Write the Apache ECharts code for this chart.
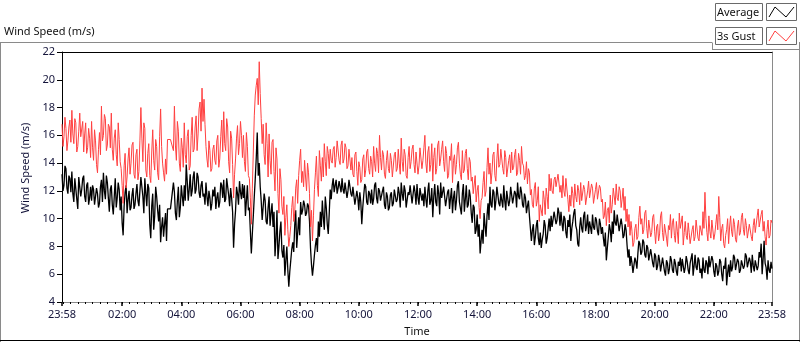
<!DOCTYPE html>
<html><head><meta charset="utf-8">
<script src="https://cdn.jsdelivr.net/npm/echarts@6/dist/echarts.min.js"></script>
<style>html,body{margin:0;padding:0;background:#fff}#c{width:800px;height:342px}</style>
</head><body><div id="c"></div>
<script>
const chartTitle = 'Wind Speed (m/s)';
const yAxisName = 'Wind Speed (m/s)';
const xAxisName = 'Time';
const seriesNames = ['Average', '3s Gust'];
const startMinute = -2, stepMinutes = 2, endMinute = 1438;
const yMin = 4, yMax = 22, yStep = 2;
const majorTimeTicks = [-2, 120, 240, 360, 480, 600, 720, 840, 960, 1080, 1200, 1320, 1438];

// Average wind speed (m/s), 2-minute samples from 23:58
const avgQ1 = [
13.2,12.0,12.4,13.8,13.6,12.2,11.8,13.1,12.9,11.9, 13.4,11.8,11.2,12.9,12.8,11.4,10.7,13.0,12.3,11.6,
12.1,12.9,13.1,11.6,11.2,12.4,12.6,11.0,11.5,12.3, 11.3,12.4,12.1,11.0,10.9,12.2,11.8,10.8,11.1,12.3,
12.8,11.2,13.3,12.0,11.4,13.1,12.6,11.5,10.5,12.1, 12.4,11.0,10.3,11.6,12.9,10.8,11.5,12.6,12.1,10.6,
11.6,9.7,8.8,10.9,11.9,12.4,10.4,11.4,12.0,10.6, 10.8,11.7,12.2,10.7,11.0,11.8,12.5,11.3,10.9,12.0,
13.0,12.3,11.6,10.4,12.9,11.8,10.9,12.5,12.2,9.6, 8.6,10.9,11.8,9.2,10.2,12.3,11.6,10.6,9.8,11.0,
8.3,9.4,10.1,8.7,9.6,10.4,8.4,10.7,10.7,10.7,10.7,10.7,10.7,12.6,
11.9,10.4,9.9,11.3,12.3,10.1,10.8,12.4,11.6,10.9, 12.4,11.3,13.9,12.7,11.3,12.1,13.2,11.6,12.0,13.0,
13.4,11.8,12.1,13.3,13.0,11.9,11.5,12.4,12.7,11.6, 11.8,11.0,12.6,11.6,10.9,12.0,11.5,10.6,11.1,12.1,
11.6,12.3,10.7,11.5,11.9,10.8,11.2,12.6,12.4,11.5, 12.8,11.2,11.4,12.9,13.0,11.7,10.9,12.2,11.5,10.5,
7.9,9.6,10.6,12.3,11.8,11.0,12.7,11.9,11.4,12.5];
const avgQ2 = [
11.5,12.4,10.2,11.3,12.4,10.6,10.8,9.1,7.5,8.9, 10.2,11.6,12.9,14.4,16.2,13.1,14.0,12.3,11.3,9.9,
10.0,11.8,11.3,9.8,9.6,10.8,11.6,9.5,10.4,11.1, 9.4,10.5,7.3,8.6,10.6,7.1,8.0,9.1,9.8,7.7,
7.2,8.1,5.9,7.0,8.0,6.3,5.1,6.2,7.0,7.8, 8.3,7.6,9.5,10.6,7.9,9.0,10.1,8.8,11.2,10.3,
10.6,11.3,11.0,10.2,10.4,11.1,10.9,9.8,7.9,6.7, 5.9,6.6,7.4,8.1,8.6,7.6,9.8,8.7,10.5,9.4,
11.3,10.1,9.2,11.6,10.8,9.6,8.9,10.4,12.1,11.4, 12.4,12.9,11.9,12.4,12.8,11.8,12.2,12.7,12.6,11.9,
12.9,12.1,11.8,12.6,12.5,11.5,12.0,12.8,12.7,11.8, 11.6,12.3,12.2,11.0,10.9,12.0,11.5,10.6,11.9,11.2,
9.6,10.8,11.7,12.5,12.3,11.2,11.0,12.0,11.8,11.1, 12.1,11.0,11.4,12.4,12.6,11.5,11.1,12.2,12.0,11.3,
11.2,12.0,12.3,11.0,10.7,11.9,11.6,10.6,10.8,11.7, 11.9,10.9,11.1,12.1,12.2,11.2,11.4,12.3,11.8,10.8,
12.6,11.8,11.3,12.4,12.0,10.8,10.9,11.9,11.7,12.4, 12.3,11.1,11.2,12.4,11.9,11.0,12.5,11.5,11.0,12.2,12.1,11.3];
const avgQ3 = [
11.8,10.9,12.3,11.4,10.8,12.0,12.6,11.0,11.3,12.2, 10.1,11.6,12.5,11.2,10.9,12.4,11.8,10.3,12.6,11.5,
11.4,12.3,12.4,10.9,11.0,11.9,12.1,10.7,11.5,12.2, 10.4,11.5,12.0,10.6,11.3,12.4,12.7,11.2,11.1,10.3,
11.8,12.5,10.5,11.4,12.4,10.8,11.0,12.1,11.6,10.4, 9.7,11.0,10.8,8.9,9.2,10.3,8.7,9.6,7.5,8.4,
9.2,8.2,10.4,9.5,8.7,10.2,11.1,9.9,12.3,11.0, 10.8,12.1,11.9,10.6,11.3,12.3,12.2,11.1,10.9,11.8,
11.7,10.8,12.4,11.3,10.6,12.0,11.9,10.9,11.3,12.3, 12.2,11.1,11.0,12.0,11.8,10.8,12.6,11.6,11.4,12.3,
11.9,11.0,10.8,11.8,11.5,10.4,10.9,11.3,10.2,9.3, 8.4,9.2,9.6,8.1,8.7,9.5,9.9,8.6,8.1,9.0,
7.9,8.5,8.9,9.9,9.5,8.2,8.6,9.3,10.0,9.1, 10.2,9.4,9.3,10.5,10.6,9.6,9.9,10.8,10.4,9.5,
10.5,9.7,9.1,10.2,10.0,9.0,8.6,9.9,9.4,10.3, 8.4,9.3,9.8,10.4,10.7,9.5,9.2,8.2,8.0,9.4,
10.1,9.3,9.0,10.2,10.5,9.1,9.5,10.3,8.9,9.8, 9.7,8.9,10.3,9.4,9.2,10.1,9.9,9.1,8.8,10.0,9.6,8.9];
const avgQ4 = [
9.4,8.6,8.0,9.0,7.0,7.9,8.7,9.6,9.2,8.3, 9.8,8.9,10.6,9.7,9.5,10.3,10.2,9.1,9.0,10.0,
9.5,8.6,8.8,9.6,9.2,8.1,7.2,7.8,6.6,7.3, 6.8,6.1,6.2,7.2,6.9,6.4,7.5,8.4,8.2,7.4,
7.6,8.5,8.3,7.4,7.2,8.1,7.9,7.0,6.9,7.8, 7.7,6.8,6.5,7.5,7.3,6.3,6.6,7.4,7.0,6.2,
6.3,7.2,7.1,6.2,5.9,7.0,6.8,6.0,6.4,7.3, 7.0,6.3,6.1,7.1,6.8,6.2,5.9,6.9,6.6,7.2,
6.2,7.1,7.0,6.1,6.5,7.3,6.9,6.3,6.0,6.8, 6.7,7.5,5.9,6.6,7.4,6.5,6.3,7.2,7.0,6.1,
6.4,5.7,7.2,6.3,6.1,7.0,6.8,6.0,7.3,6.5, 6.5,7.3,7.0,6.2,5.8,6.8,6.6,5.9,6.2,7.1,
6.9,6.0,5.5,6.6,6.4,7.2,5.2,6.1,6.7,5.8, 7.0,6.2,6.5,7.4,7.2,6.3,6.4,7.1,6.9,6.1,
6.3,7.0,7.1,6.4,6.6,7.5,7.3,6.5,6.5,7.2, 6.9,6.1,7.4,6.6,6.2,7.0,7.1,6.3,6.6,7.6,
7.2,8.2,6.0,7.1,8.4,6.8,6.5,5.6,7.0,6.3, 6.1,6.9,6.4];

// 3-second gust (m/s), 2-minute samples from 23:58
const gustQ1 = [
16.8,15.2,15.9,17.3,16.5,14.9,15.6,16.6,17.1,15.5, 17.8,16.1,15.4,17.2,16.9,14.8,15.2,16.3,17.6,15.9,
16.0,17.0,14.8,16.1,16.9,14.7,15.1,16.5,15.8,14.4, 17.0,15.1,14.2,16.4,15.6,13.9,13.3,15.0,16.2,14.6,
18.1,15.6,16.0,17.5,17.2,14.9,15.3,16.8,16.6,15.1, 17.6,15.0,14.2,15.8,16.4,14.6,13.8,16.9,15.7,14.1,
13.6,12.4,11.1,13.8,14.7,12.2,13.0,14.3,15.1,13.2, 14.0,15.3,15.5,13.2,12.9,14.6,15.0,12.8,13.4,15.6,
18.0,15.8,14.1,16.9,16.5,13.5,13.0,14.7,15.4,13.1, 12.6,14.8,16.4,14.2,13.5,15.7,15.2,13.3,12.8,15.9,
17.9,15.2,14.0,13.3,12.7,14.3,13.2,15.7,15.7,15.7,15.7,15.7,15.7,14.9,
18.1,15.3,14.2,17.0,16.3,14.0,13.4,15.8,15.1,13.7, 16.9,14.6,14.0,15.9,16.4,13.5,13.8,16.0,17.3,14.8,
15.0,16.6,17.4,14.9,16.1,17.9,18.4,16.3,19.4,17.0, 18.6,16.8,15.2,14.3,13.7,15.6,14.9,13.4,13.6,15.0,
15.3,14.2,13.9,15.6,16.0,13.7,14.3,15.9,17.1,14.8, 17.7,15.4,14.9,17.2,16.6,14.1,13.3,16.3,15.8,13.9,
11.5,13.2,14.3,15.8,16.7,14.6,15.4,17.0,16.0,14.4];
const gustQ2 = [
16.0,14.1,13.4,16.2,15.2,13.1,12.9,11.5,9.6,12.2, 14.8,17.4,18.9,19.6,20.1,18.2,21.3,19.0,17.2,15.4,
16.8,14.6,13.9,16.9,15.4,13.0,16.1,14.2,13.2,15.5, 15.7,13.4,12.0,15.1,14.3,11.8,10.4,13.6,12.8,10.9,
10.3,11.6,8.8,10.1,11.0,9.2,8.0,8.7,9.5,10.8, 11.6,9.8,10.4,12.2,12.8,11.1,13.1,14.2,15.0,12.6,
13.4,12.3,14.2,13.0,12.0,14.0,13.3,11.8,9.4,10.6, 8.4,10.2,12.1,13.3,14.5,12.4,11.6,14.9,13.8,12.7,
14.4,13.0,15.4,14.1,13.1,15.2,14.7,13.6,15.0,14.2, 14.0,15.0,15.2,13.7,14.4,15.6,15.5,14.2,13.9,15.3,
15.6,14.0,14.3,15.4,15.1,13.6,13.8,15.0,14.9,13.5, 14.4,13.2,13.0,14.6,14.8,13.4,12.4,14.1,13.7,12.6,
12.8,14.3,14.6,13.0,13.5,14.8,15.0,13.6,13.2,14.5, 14.1,13.0,15.2,14.0,13.4,15.1,14.7,13.3,16.0,14.4,
13.5,14.9,14.6,13.2,12.9,14.2,14.9,13.6,13.3,14.7, 14.2,13.0,13.1,14.6,14.8,13.4,13.6,15.0,14.0,13.2,
15.8,14.1,13.4,15.0,14.6,13.1,12.9,14.4,15.2,13.6, 14.1,15.0,15.3,13.9,13.3,14.8,14.7,13.2,13.8,15.1,15.0,13.6];
const gustQ3 = [
14.2,15.1,16.0,14.0,13.3,14.8,15.2,13.4,13.9,15.4, 12.7,14.4,15.1,13.2,13.6,15.3,15.6,13.8,14.3,15.0,
15.6,14.1,13.4,15.2,14.7,12.9,13.1,14.5,14.2,15.4, 12.6,14.2,14.6,13.2,13.9,15.1,15.5,14.0,13.2,12.8,
14.9,13.3,13.5,14.7,15.0,13.6,12.8,14.4,14.1,12.7, 13.0,11.8,11.9,13.1,11.2,12.0,12.4,10.8,10.0,11.3,
11.5,12.6,13.4,11.6,12.0,13.7,15.1,13.2,14.0,12.5, 13.3,14.6,14.8,13.1,12.7,14.3,15.4,13.7,13.9,15.0,
15.1,13.6,13.2,14.9,14.4,13.0,12.9,14.2,14.6,13.3, 14.8,13.5,13.7,14.6,15.0,13.1,13.3,14.7,14.2,13.2,
15.2,14.0,13.8,12.8,13.1,14.1,12.5,13.6,13.3,11.7, 12.1,11.0,10.8,12.2,12.6,10.9,11.3,12.3,9.8,11.0,
11.1,10.2,12.0,11.4,10.3,12.2,11.6,10.7,13.2,12.0, 12.9,12.0,11.8,12.8,13.0,12.3,12.2,13.2,13.1,11.9,
12.4,11.5,13.1,12.0,11.6,12.9,12.8,11.4,10.5,11.7, 10.9,12.3,11.8,10.8,12.5,11.6,11.2,12.4,12.0,11.0,
12.6,11.3,11.4,12.4,12.1,11.0,10.9,12.0,12.7,11.5, 11.6,12.5,12.2,11.1,11.0,12.1,12.6,11.4,11.3,12.4,12.2,11.2];
const gustQ4 = [
11.4,10.0,10.2,11.2,9.5,10.6,10.8,9.7,11.7,10.4, 11.0,12.2,12.1,11.0,12.5,11.5,11.3,12.3,12.0,10.8,
11.4,12.2,10.6,11.6,9.8,10.7,9.4,10.3,8.8,9.8, 9.1,8.0,8.3,9.3,9.6,8.5,8.7,10.1,10.9,9.6,
10.0,8.9,9.2,10.4,10.6,9.3,8.6,9.9,9.8,8.7, 9.0,10.1,10.3,9.1,8.2,9.4,9.6,8.4,8.9,10.2,
10.5,9.0,8.4,9.6,9.7,8.6,8.0,9.5,9.2,10.3, 8.6,9.7,10.0,8.8,8.3,9.8,9.1,8.2,10.4,9.3,
9.3,10.2,8.1,9.0,9.8,8.8,8.5,9.7,9.0,8.2, 8.2,9.2,9.5,8.4,8.7,9.9,10.0,8.6,8.4,9.5,
9.6,8.8,10.5,9.3,11.9,10.0,9.0,8.4,10.2,9.1, 8.6,9.9,9.8,8.5,8.9,9.6,10.3,9.2,11.6,10.1,
8.4,9.3,9.6,8.2,7.9,8.8,9.2,10.0,8.2,9.4, 10.2,9.1,8.7,10.0,9.6,8.5,8.3,9.4,9.9,8.8,
9.0,10.1,10.4,9.2,8.8,10.0,9.5,8.6,8.5,9.6, 9.7,8.7,8.4,9.5,10.0,9.0,8.9,10.2,10.7,9.4,
9.3,10.3,10.6,9.1,9.8,8.7,8.1,9.2,9.9,8.6, 8.8,9.9,9.7];

const avg = avgQ1.concat(avgQ2, avgQ3, avgQ4);
const gust = gustQ1.concat(gustQ2, gustQ3, gustQ4);
const toPoints = arr => arr.map((v, i) => [startMinute + i * stepMinutes, v]);

const minorTimeTicks = [];
for (let m = 0; m <= endMinute; m += 15) minorTimeTicks.push(m);

function fmtTime(v) {
  const m = ((Math.round(v) % 1440) + 1440) % 1440;
  return String(Math.floor(m / 60)).padStart(2, '0') + ':' + String(m % 60).padStart(2, '0');
}

const FONT = '"Noto Sans", "DejaVu Sans", sans-serif';
const axisTextColor = '#14143a';
const frameGray = '#8a8a8a';
const boxStroke = '#6a6a6a';

const chart = echarts.init(document.getElementById('c'), null, {renderer: 'canvas'});
chart.setOption({
  animation: false,
  backgroundColor: '#ffffff',
  textStyle: {fontFamily: FONT},
  grid: {left: 62, top: 52, width: 710, height: 251, containLabel: false},
  xAxis: [
    {
      type: 'value', min: startMinute, max: endMinute, position: 'bottom',
      axisLine: {show: true, onZero: false, lineStyle: {color: frameGray, width: 1}},
      axisTick: {show: true, customValues: minorTimeTicks, length: 2, lineStyle: {color: '#000', width: 1}},
      axisLabel: {customValues: majorTimeTicks, formatter: fmtTime, color: axisTextColor, fontSize: 11, margin: 7, fontFamily: FONT},
      splitLine: {show: false},
      name: xAxisName, nameLocation: 'middle', nameGap: 24,
      nameTextStyle: {color: '#111', fontSize: 11, fontFamily: FONT}
    },
    {
      type: 'value', min: startMinute, max: endMinute, position: 'bottom',
      axisLine: {show: false, onZero: false},
      axisTick: {show: true, customValues: majorTimeTicks, length: 4, lineStyle: {color: '#000', width: 1.5}},
      axisLabel: {show: false},
      splitLine: {show: false}
    },
    {
      type: 'value', min: startMinute, max: endMinute, position: 'top',
      axisLine: {show: true, onZero: false, lineStyle: {color: '#000', width: 1}},
      axisTick: {show: false}, axisLabel: {show: false}, splitLine: {show: false}
    }
  ],
  yAxis: [
    {
      type: 'value', min: yMin, max: yMax, interval: yStep, position: 'left',
      axisLine: {show: true, onZero: false, lineStyle: {color: '#000', width: 1}},
      axisTick: {show: true, length: 5, lineStyle: {color: '#000', width: 1}},
      axisLabel: {color: axisTextColor, fontSize: 11, margin: 7, fontFamily: FONT},
      splitLine: {show: false},
      name: yAxisName, nameLocation: 'middle', nameGap: 25, nameRotate: 90,
      nameTextStyle: {color: axisTextColor, fontSize: 11, fontFamily: FONT, padding: [0, 0, 0, 18]}
    },
    {
      type: 'value', min: yMin, max: yMax, interval: yStep, position: 'right',
      axisLine: {show: true, onZero: false, lineStyle: {color: frameGray, width: 1}},
      axisTick: {show: false}, axisLabel: {show: false}, splitLine: {show: false}
    }
  ],
  series: [
    {
      type: 'line', name: seriesNames[0], data: toPoints(avg), xAxisIndex: 0, yAxisIndex: 0,
      symbol: 'none', showSymbol: false, smooth: false, z: 2,
      lineStyle: {color: '#000000', width: 1.3}
    },
    {
      type: 'line', name: seriesNames[1], data: toPoints(gust), xAxisIndex: 0, yAxisIndex: 0,
      symbol: 'none', showSymbol: false, smooth: false, z: 3,
      lineStyle: {color: '#ff4040', width: 1}
    }
  ],
  graphic: [
    {type: 'text', style: {x: 4, y: 32, text: chartTitle, font: '11px ' + FONT, fill: '#111', verticalAlign: 'middle'}},
    {type: 'line', shape: {x1: 0, y1: 42.5, x2: 712, y2: 42.5}, style: {stroke: frameGray, lineWidth: 1}},
    {type: 'line', shape: {x1: 712.5, y1: 42.5, x2: 712.5, y2: 49.5}, style: {stroke: frameGray, lineWidth: 1}},
    {type: 'line', shape: {x1: 712, y1: 49.5, x2: 800, y2: 49.5}, style: {stroke: frameGray, lineWidth: 1}},
    {type: 'line', shape: {x1: 0.5, y1: 42, x2: 0.5, y2: 342}, style: {stroke: frameGray, lineWidth: 1}},
    {type: 'line', shape: {x1: 799.5, y1: 42, x2: 799.5, y2: 342}, style: {stroke: frameGray, lineWidth: 1}},
    {type: 'line', shape: {x1: 0, y1: 340.5, x2: 800, y2: 340.5}, style: {stroke: '#000', lineWidth: 1}},
    {type: 'rect', shape: {x: 715.5, y: 3.5, width: 47, height: 17}, style: {fill: '#fff', stroke: boxStroke, lineWidth: 1}},
    {type: 'rect', shape: {x: 766.5, y: 3.5, width: 30, height: 17}, style: {fill: '#fff', stroke: boxStroke, lineWidth: 1}},
    {type: 'text', style: {x: 717, y: 12.5, text: seriesNames[0], font: '11px ' + FONT, fill: '#111', verticalAlign: 'middle'}},
    {type: 'polyline', shape: {points: [[769, 17], [775, 7], [786, 17], [794, 7]]}, style: {stroke: '#000', lineWidth: 1, fill: null}},
    {type: 'rect', shape: {x: 715.5, y: 27.5, width: 47, height: 17}, style: {fill: '#fff', stroke: boxStroke, lineWidth: 1}},
    {type: 'rect', shape: {x: 766.5, y: 27.5, width: 30, height: 17}, style: {fill: '#fff', stroke: boxStroke, lineWidth: 1}},
    {type: 'text', style: {x: 717, y: 36.5, text: seriesNames[1], font: '11px ' + FONT, fill: '#111', verticalAlign: 'middle'}},
    {type: 'polyline', shape: {points: [[769, 41], [775, 31], [786, 41], [794, 31]]}, style: {stroke: '#ff4040', lineWidth: 1, fill: null}}
  ]
});
</script>
</body></html>
